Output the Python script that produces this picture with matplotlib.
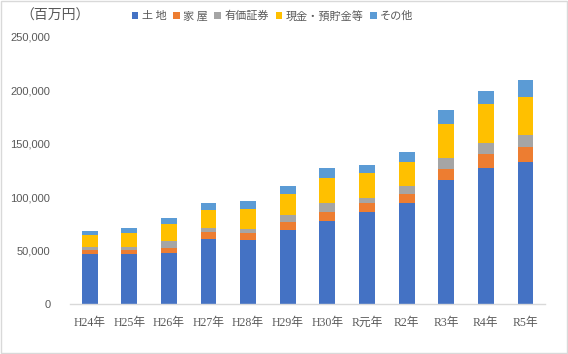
import matplotlib
matplotlib.use("Agg")
import matplotlib.pyplot as plt
from matplotlib.patches import Patch, Rectangle
import numpy as np

plt.rcParams['font.family'] = ['Liberation Serif', 'Noto Sans CJK JP', 'DejaVu Sans']

categories = ["H24年", "H25年", "H26年", "H27年", "H28年", "H29年", "H30年", "R元年", "R2年", "R3年", "R4年", "R5年"]
series_names = ["土 地", "家 屋", "有価証券", "現金・預貯金等", "その他"]
land = [46800, 46800, 47700, 60800, 59900, 69300, 77700, 86100, 94500, 116100, 127300, 132900]
house = [3700, 3700, 4700, 6600, 6550, 7450, 8400, 8400, 8500, 10300, 13100, 14100]
securities = [2850, 2850, 6600, 3700, 3750, 6550, 8400, 4700, 7400, 10300, 10300, 11400]
cash = [11250, 13100, 15900, 16900, 18700, 19700, 23400, 23400, 22500, 31800, 36500, 35400]
other = [4000, 4650, 5600, 6500, 7500, 7400, 9400, 7500, 9400, 13100, 12200, 15900]
yticks = [0, 50000, 100000, 150000, 200000, 250000]

colors = ["#4472C4", "#ED7D31", "#A5A5A5", "#FFC000", "#5B9BD5"]
series = [land, house, securities, cash, other]

fig = plt.figure(figsize=(5.68, 3.54), dpi=100)
ax = fig.add_axes([0.123, 0.1412, 0.837, 0.7543])

x = np.arange(len(categories))
bottom = np.zeros(len(categories))
for vals, c in zip(series, colors):
    ax.bar(x, vals, bottom=bottom, width=0.4, color=c, zorder=2)
    bottom += np.array(vals)

ax.set_ylim(0, 250000)
ax.set_xlim(-0.5, len(categories) - 0.5)
ax.set_yticks(yticks)
ax.set_yticklabels([f"{v:,}" for v in yticks], fontsize=8, color="#595959",
                   family=['Liberation Sans', 'DejaVu Sans'])
ax.set_xticks(x)
ax.set_xticklabels(categories, fontsize=8.5, color="#595959")
ax.tick_params(axis='both', length=0)
ax.tick_params(axis='y', pad=14)
ax.tick_params(axis='x', pad=9)
for s in ["top", "right", "left"]:
    ax.spines[s].set_visible(False)
ax.spines["bottom"].set_color("#D9D9D9")
ax.spines["bottom"].set_linewidth(1)

fig.text(0.035, 0.955, "（百万円）", fontsize=10, color="#595959", va="center", ha="left",
         family=['Noto Sans CJK JP', 'DejaVu Sans'])

handles = [Patch(facecolor=c, edgecolor='none') for c in colors]
leg = fig.legend(handles, series_names, loc="center left", bbox_to_anchor=(0.222, 0.955),
                 ncol=5, frameon=False, handlelength=0.6, handleheight=0.6,
                 handletextpad=0.3, columnspacing=0.6, borderpad=0,
                 prop={'family': ['Noto Sans CJK JP', 'DejaVu Sans'], 'size': 8})
for t in leg.get_texts():
    t.set_color("#595959")

fig.add_artist(Rectangle((0.001, 0.002), 0.997, 0.995, transform=fig.transFigure,
                         fill=False, edgecolor="#D9D9D9", linewidth=1))

fig.savefig("out.png", dpi=100)
